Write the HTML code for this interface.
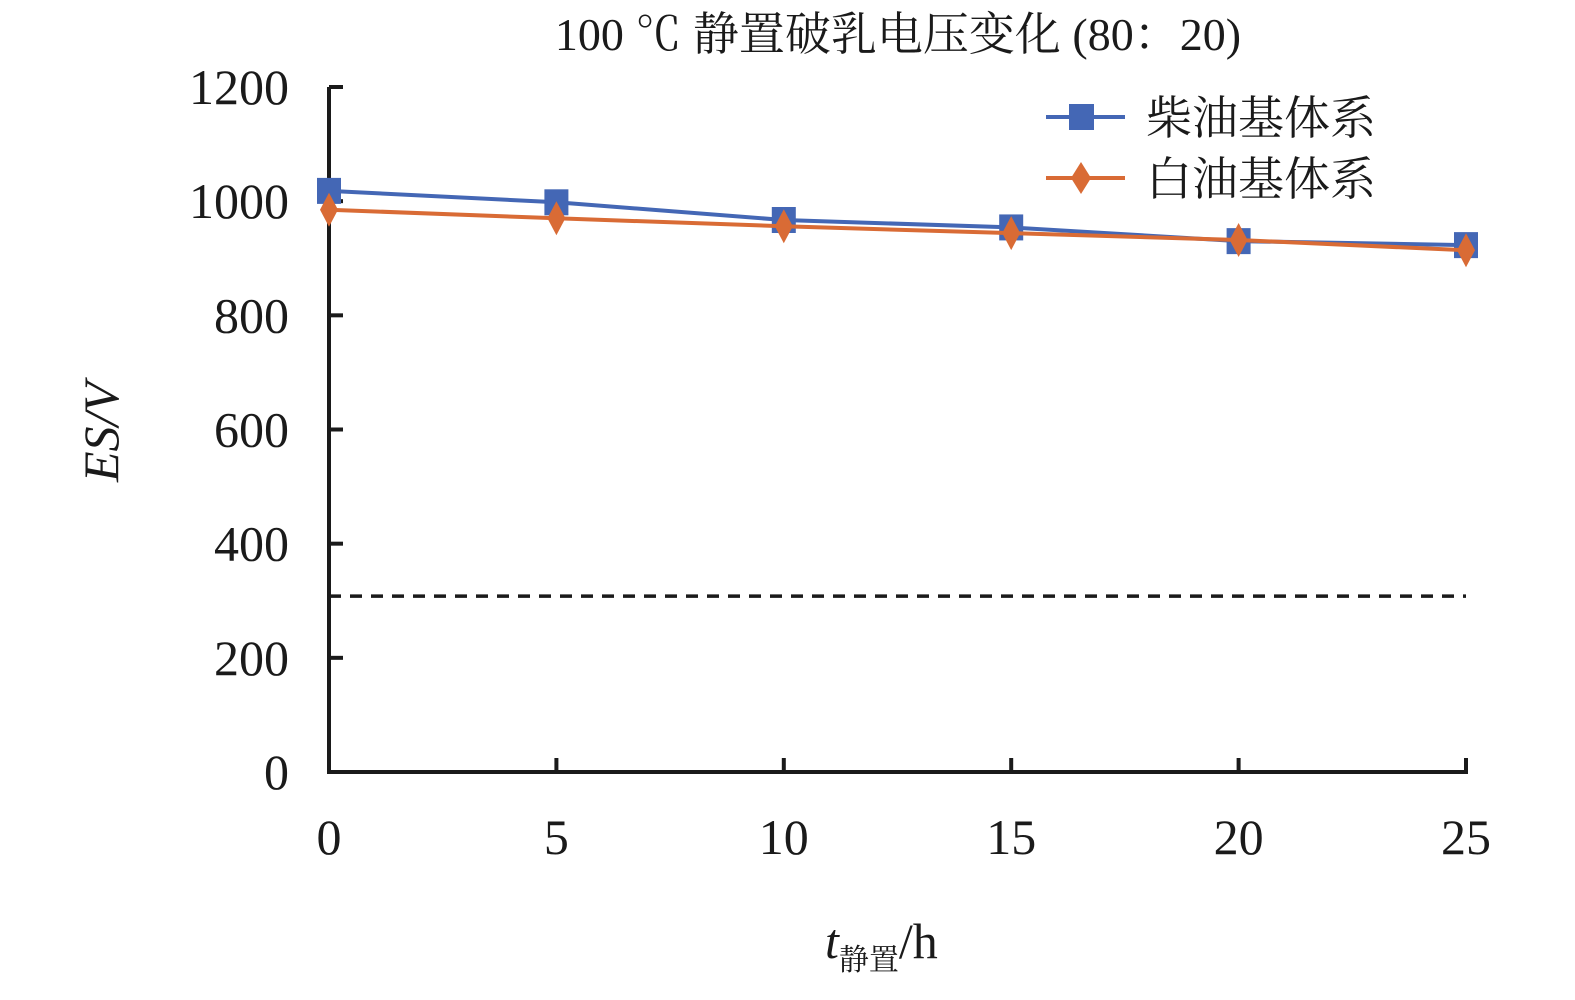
<!DOCTYPE html>
<html><head><meta charset="utf-8"><style>
body{margin:0;background:#fff}
svg text{font-family:"Liberation Serif","Noto Serif CJK SC",serif;fill:#1a1a1a}
</style></head><body>
<svg id="chart" width="1575" height="995" xmlns="http://www.w3.org/2000/svg">
<text x="898" y="50" font-size="46" text-anchor="middle">100 ℃ 静置破乳电压变化 (80：20)</text>
<g id="axes"></g>
<g id="marks"></g>
<g>
<g>
<line x1="1046" y1="117" x2="1125" y2="117" stroke="#4467b5" stroke-width="4"/>
<rect x="1069" y="104" width="25" height="26" fill="#4467b5"/>
<text x="1146" y="134" font-size="46">柴油基体系</text></g>
<g>
<line x1="1046" y1="178" x2="1125" y2="178" stroke="#d96b35" stroke-width="4"/>
<polygon points="1081,162 1091,178 1081,194 1071,178" fill="#d96b35"/>
<text x="1146" y="195" font-size="46">白油基体系</text></g>
</g>
<text transform="translate(118,432) rotate(-90)" font-size="50" text-anchor="middle" font-style="italic">ES/V</text>
<text x="825" y="958" font-size="50"><tspan font-style="italic">t</tspan><tspan font-size="30" dy="12">静置</tspan><tspan dy="-12">/h</tspan></text>
</svg>
<script>
const xValues=[0,5,10,15,20,25];
const dieselValues=[1018,998,967,954,930,923];
const whiteOilValues=[985,970,956,944,932,914];
const thresholdValue=308;
const yTicks=[0,200,400,600,800,1000,1200];
const xTicks=[0,5,10,15,20,25];
const NS="http://www.w3.org/2000/svg";
const X=v=>329+v*(1466-329)/25;
const Y=v=>772-v*(772-87)/1200;
function mk(tag,attrs,parent){const e=document.createElementNS(NS,tag);for(const k in attrs)e.setAttribute(k,attrs[k]);parent.appendChild(e);return e;}
const axes=document.getElementById('axes'),marks=document.getElementById('marks');
let a=mk('line',{x1:329,y1:87,x2:329,y2:774,stroke:'#1a1a1a','stroke-width':4},axes);


a=mk('line',{x1:327,y1:772,x2:1468,y2:772,stroke:'#1a1a1a','stroke-width':4},axes);


yTicks.forEach(t=>{
 const y=Y(t);
 const l=mk('line',{x1:329,y1:y,x2:343,y2:y,stroke:'#1a1a1a','stroke-width':4},axes);
 
 
 const tx=mk('text',{x:289,y:y+17,'font-size':50,'text-anchor':'end'},axes);tx.textContent=t;
 
 
});
xTicks.forEach(t=>{
 const x=X(t);
 const l=mk('line',{x1:x,y1:772,x2:x,y2:758,stroke:'#1a1a1a','stroke-width':4},axes);
 
 
 const tx=mk('text',{x:x,y:854,'font-size':50,'text-anchor':'middle'},axes);tx.textContent=t;
 
 
});
const th=mk('line',{x1:X(0),y1:Y(thresholdValue),x2:X(25),y2:Y(thresholdValue),stroke:'#1a1a1a','stroke-width':3.5,'stroke-dasharray':'12 9'},marks);


function series(vals,color,name,shape){
 const p=mk('polyline',{points:vals.map((v,i)=>X(xValues[i])+','+Y(v)).join(' '),fill:'none',stroke:color,'stroke-width':4},marks);
 
 
 vals.forEach((v,i)=>{
  const x=X(xValues[i]),y=Y(v);let m;
  if(shape==='square')m=mk('rect',{x:x-12,y:y-13,width:24,height:26,fill:color},marks);
  else m=mk('polygon',{points:`${x},${y-17} ${x+9},${y} ${x},${y+17} ${x-9},${y}`,fill:color},marks);
  
  
 });
}
series(dieselValues,'#4467b5','diesel','square');
series(whiteOilValues,'#d96b35','white-oil','diamond');
</script>
</body></html>
